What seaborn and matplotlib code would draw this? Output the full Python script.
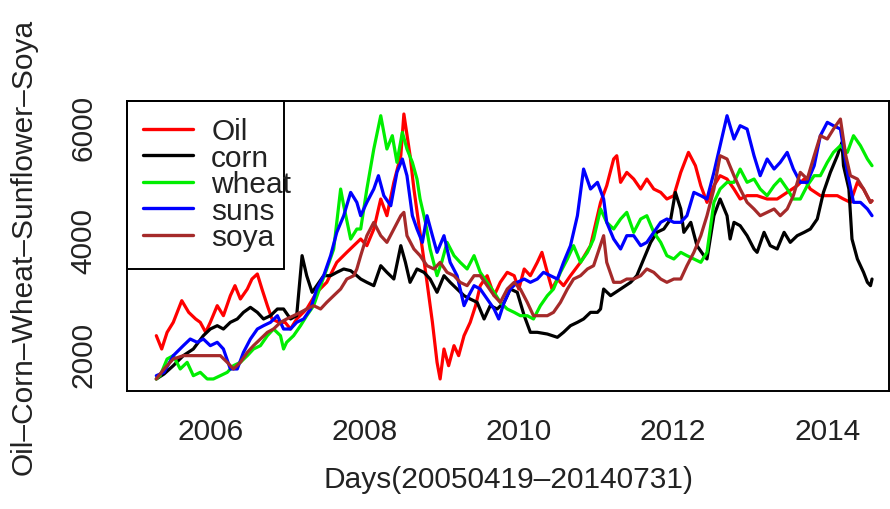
import numpy as np
import pandas as pd
import matplotlib
matplotlib.use("Agg")
import matplotlib.pyplot as plt
from matplotlib.patches import Rectangle
from matplotlib.lines import Line2D
import seaborn as sns

# ---- price series (decimal year, value) ----
oil_year = [2005.30, 2005.37, 2005.44, 2005.52, 2005.63, 2005.72, 2005.81, 2005.87, 2005.94, 2006.00,
            2006.09, 2006.17, 2006.26, 2006.32, 2006.39, 2006.48, 2006.54, 2006.61, 2006.67, 2006.74,
            2006.80, 2006.89, 2006.97, 2007.04, 2007.12, 2007.25, 2007.38, 2007.51, 2007.64, 2007.77,
            2007.86, 2007.95, 2008.03, 2008.12, 2008.21, 2008.29, 2008.38, 2008.47, 2008.51, 2008.59,
            2008.64, 2008.70, 2008.75, 2008.81, 2008.88, 2008.94, 2008.98, 2009.03, 2009.09, 2009.16,
            2009.22, 2009.29, 2009.37, 2009.44, 2009.50, 2009.59, 2009.68, 2009.76, 2009.85, 2009.94,
            2010.00, 2010.07, 2010.15, 2010.24, 2010.30, 2010.37, 2010.43, 2010.50, 2010.58, 2010.67,
            2010.80, 2010.93, 2011.06, 2011.14, 2011.23, 2011.27, 2011.32, 2011.40, 2011.49, 2011.58,
            2011.66, 2011.75, 2011.84, 2011.92, 2012.01, 2012.10, 2012.20, 2012.29, 2012.36, 2012.44,
            2012.53, 2012.61, 2012.70, 2012.79, 2012.87, 2012.96, 2013.09, 2013.22, 2013.35, 2013.48,
            2013.61, 2013.70, 2013.78, 2013.91, 2014.04, 2014.13, 2014.21, 2014.30, 2014.39, 2014.47,
            2014.56, 2014.58]
oil_value = [2323, 2088, 2382, 2558, 2940, 2734, 2617, 2558, 2382, 2558,
             2852, 2675, 3028, 3204, 2969, 3145, 3321, 3410, 3145, 2852,
             2617, 2558, 2558, 2440, 2617, 2793, 3087, 3263, 3615, 3791,
             3909, 4026, 3909, 4200, 4731, 4437, 5025, 5494, 6229, 5500,
             4907, 4320, 3850, 3263, 2558, 1853, 1560, 2088, 1794, 2147,
             1971, 2323, 2558, 2852, 3204, 3380, 3028, 3263, 3439, 3380,
             3145, 3498, 3380, 3615, 3791, 3439, 3145, 3321, 3204, 3380,
             3615, 3909, 4670, 4966, 5436, 5494, 5025, 5200, 5083, 4907,
             5083, 4907, 4848, 4731, 4790, 5200, 5553, 5318, 4966, 4672,
             4966, 5142, 5083, 4907, 4731, 4790, 4790, 4731, 4731, 4848,
             4966, 5083, 4907, 4790, 4790, 4790, 4731, 4672, 5025, 4907,
             4672, 4700]

corn_year = [2005.30, 2005.40, 2005.52, 2005.65, 2005.78, 2005.91, 2006.00, 2006.09, 2006.17, 2006.26,
             2006.35, 2006.43, 2006.52, 2006.61, 2006.69, 2006.78, 2006.87, 2006.95, 2007.04, 2007.12,
             2007.19, 2007.25, 2007.32, 2007.38, 2007.47, 2007.56, 2007.64, 2007.73, 2007.82, 2007.90,
             2007.95, 2008.03, 2008.12, 2008.21, 2008.29, 2008.38, 2008.47, 2008.53, 2008.59, 2008.68,
             2008.77, 2008.85, 2008.94, 2009.03, 2009.11, 2009.20, 2009.29, 2009.37, 2009.46, 2009.55,
             2009.63, 2009.72, 2009.81, 2009.89, 2009.98, 2010.07, 2010.15, 2010.24, 2010.37, 2010.50,
             2010.58, 2010.67, 2010.76, 2010.84, 2010.93, 2011.02, 2011.06, 2011.10, 2011.19, 2011.32,
             2011.45, 2011.53, 2011.62, 2011.71, 2011.79, 2011.88, 2011.97, 2012.03, 2012.10, 2012.14,
             2012.23, 2012.31, 2012.40, 2012.44, 2012.53, 2012.61, 2012.70, 2012.74, 2012.79, 2012.87,
             2012.96, 2013.05, 2013.09, 2013.18, 2013.26, 2013.35, 2013.44, 2013.52, 2013.61, 2013.70,
             2013.78, 2013.87, 2013.95, 2014.04, 2014.13, 2014.19, 2014.21, 2014.28, 2014.32, 2014.39,
             2014.47, 2014.52, 2014.56, 2014.58]
corn_value = [1560, 1647, 1794, 1971, 2088, 2323, 2440, 2499, 2440, 2558,
              2617, 2734, 2822, 2734, 2617, 2675, 2793, 2793, 2617, 2675,
              3733, 3380, 3087, 3204, 3380, 3380, 3439, 3498, 3468, 3380,
              3321, 3263, 3204, 3556, 3439, 3321, 3909, 3615, 3263, 3498,
              3439, 3321, 3087, 3380, 3263, 3145, 3028, 2969, 2910, 2617,
              2852, 2793, 2910, 3145, 3087, 2675, 2382, 2382, 2352, 2294,
              2382, 2499, 2558, 2617, 2734, 2734, 2793, 3145, 3028, 3145,
              3263, 3380, 3674, 3967, 4144, 4202, 4379, 4848, 4555, 4144,
              4320, 3909, 3733, 3674, 4437, 4731, 4437, 4026, 4320, 4261,
              4085, 3850, 3791, 4144, 3909, 3850, 4144, 3967, 4085, 4144,
              4202, 4379, 4848, 5201, 5494, 5729, 5318, 4907, 4026, 3674,
              3439, 3263, 3204, 3321]

wheat_year = [2005.30, 2005.35, 2005.44, 2005.52, 2005.61, 2005.70, 2005.78, 2005.87, 2005.96, 2006.04,
              2006.13, 2006.22, 2006.30, 2006.39, 2006.48, 2006.56, 2006.65, 2006.74, 2006.82, 2006.91,
              2006.95, 2006.99, 2007.08, 2007.17, 2007.25, 2007.34, 2007.43, 2007.51, 2007.60, 2007.69,
              2007.73, 2007.82, 2007.90, 2007.95, 2008.03, 2008.12, 2008.21, 2008.29, 2008.36, 2008.42,
              2008.49, 2008.55, 2008.62, 2008.68, 2008.72, 2008.79, 2008.85, 2008.94, 2009.00, 2009.07,
              2009.16, 2009.24, 2009.33, 2009.42, 2009.50, 2009.59, 2009.68, 2009.76, 2009.85, 2009.94,
              2010.02, 2010.11, 2010.19, 2010.28, 2010.37, 2010.45, 2010.54, 2010.63, 2010.71, 2010.80,
              2010.89, 2010.97, 2011.06, 2011.14, 2011.23, 2011.32, 2011.40, 2011.49, 2011.58, 2011.66,
              2011.75, 2011.84, 2011.92, 2012.01, 2012.10, 2012.18, 2012.27, 2012.36, 2012.44, 2012.53,
              2012.61, 2012.70, 2012.79, 2012.87, 2012.96, 2013.05, 2013.13, 2013.22, 2013.31, 2013.39,
              2013.48, 2013.56, 2013.65, 2013.74, 2013.83, 2013.91, 2014.00, 2014.08, 2014.17, 2014.26,
              2014.34, 2014.43, 2014.52, 2014.58]
wheat_value = [1560, 1618, 1912, 1971, 1736, 1853, 1618, 1677, 1560, 1560,
               1618, 1677, 1794, 1853, 1971, 2088, 2147, 2323, 2440, 2323,
               2088, 2206, 2323, 2499, 2675, 2852, 3204, 3498, 3850, 4907,
               4613, 4026, 4202, 4202, 4907, 5612, 6199, 5612, 5847, 5377,
               5906, 5612, 5377, 5083, 4731, 4320, 3850, 3380, 3615, 3967,
               3733, 3615, 3498, 3733, 3439, 3263, 3087, 2910, 2793, 2734,
               2675, 2675, 2617, 2852, 3028, 3145, 3439, 3674, 3909, 3615,
               3791, 4026, 4555, 4320, 4202, 4379, 4496, 4144, 4379, 4437,
               4144, 3967, 3733, 3674, 3791, 3733, 3674, 3615, 3791, 4672,
               4907, 5025, 5025, 5259, 5025, 5083, 4907, 4790, 4966, 5083,
               4907, 4731, 4731, 4966, 5142, 5142, 5377, 5553, 5671, 5553,
               5847, 5671, 5436, 5318]

suns_year = [2005.30, 2005.40, 2005.52, 2005.65, 2005.74, 2005.83, 2005.91, 2006.00, 2006.09, 2006.17,
             2006.26, 2006.35, 2006.43, 2006.52, 2006.61, 2006.69, 2006.78, 2006.87, 2006.95, 2007.04,
             2007.12, 2007.21, 2007.30, 2007.38, 2007.47, 2007.56, 2007.64, 2007.73, 2007.82, 2007.90,
             2007.95, 2008.03, 2008.12, 2008.18, 2008.25, 2008.34, 2008.42, 2008.49, 2008.55, 2008.62,
             2008.68, 2008.75, 2008.81, 2008.88, 2008.94, 2009.03, 2009.11, 2009.20, 2009.29, 2009.35,
             2009.42, 2009.50, 2009.59, 2009.68, 2009.74, 2009.81, 2009.89, 2009.98, 2010.07, 2010.15,
             2010.24, 2010.32, 2010.41, 2010.50, 2010.58, 2010.67, 2010.76, 2010.84, 2010.93, 2011.02,
             2011.10, 2011.14, 2011.23, 2011.32, 2011.40, 2011.49, 2011.58, 2011.66, 2011.75, 2011.84,
             2011.92, 2012.01, 2012.10, 2012.18, 2012.27, 2012.36, 2012.44, 2012.53, 2012.61, 2012.70,
             2012.79, 2012.87, 2012.96, 2013.05, 2013.13, 2013.22, 2013.31, 2013.39, 2013.48, 2013.56,
             2013.65, 2013.74, 2013.83, 2013.91, 2014.00, 2014.08, 2014.17, 2014.26, 2014.34, 2014.43,
             2014.52, 2014.58]
suns_value = [1618, 1677, 1971, 2147, 2264, 2206, 2264, 2147, 2206, 2088,
              1736, 1736, 2029, 2264, 2440, 2499, 2558, 2675, 2440, 2440,
              2558, 2617, 2793, 3145, 3380, 3733, 4144, 4437, 4848, 4672,
              4437, 4672, 4907, 5142, 4790, 4613, 5201, 5436, 5142, 4437,
              4202, 3967, 4437, 4085, 3791, 4085, 3615, 3380, 2852, 3028,
              3204, 3145, 2969, 2793, 2617, 2910, 3145, 3263, 3321, 3263,
              3321, 3439, 3380, 3321, 3615, 3909, 4437, 5259, 4907, 5025,
              4731, 4320, 4026, 3850, 4085, 4085, 3909, 3967, 4144, 4320,
              4379, 4320, 4320, 4437, 4848, 4790, 4731, 5201, 5671, 6199,
              5788, 6023, 5964, 5494, 5142, 5436, 5259, 5377, 5553, 5259,
              5025, 5025, 5318, 5847, 6082, 6023, 5964, 5201, 4672, 4672,
              4555, 4437]

soya_year = [2005.30, 2005.40, 2005.52, 2005.65, 2005.78, 2005.91, 2006.04, 2006.13, 2006.22, 2006.30,
             2006.39, 2006.48, 2006.56, 2006.65, 2006.74, 2006.82, 2006.91, 2006.99, 2007.08, 2007.17,
             2007.25, 2007.34, 2007.43, 2007.51, 2007.60, 2007.69, 2007.77, 2007.86, 2007.90, 2007.95,
             2008.03, 2008.12, 2008.21, 2008.29, 2008.38, 2008.47, 2008.51, 2008.55, 2008.64, 2008.72,
             2008.81, 2008.90, 2008.98, 2009.07, 2009.16, 2009.24, 2009.33, 2009.42, 2009.50, 2009.59,
             2009.68, 2009.76, 2009.85, 2009.94, 2010.02, 2010.11, 2010.19, 2010.28, 2010.37, 2010.45,
             2010.54, 2010.63, 2010.71, 2010.80, 2010.89, 2010.97, 2011.10, 2011.14, 2011.23, 2011.32,
             2011.40, 2011.49, 2011.58, 2011.66, 2011.75, 2011.84, 2011.92, 2012.01, 2012.10, 2012.18,
             2012.27, 2012.36, 2012.44, 2012.53, 2012.61, 2012.70, 2012.79, 2012.87, 2012.96, 2013.05,
             2013.13, 2013.22, 2013.31, 2013.39, 2013.48, 2013.56, 2013.65, 2013.74, 2013.83, 2013.91,
             2014.00, 2014.08, 2014.17, 2014.24, 2014.30, 2014.39, 2014.47, 2014.56, 2014.58]
soya_value = [1560, 1736, 1912, 1971, 1971, 1971, 1971, 1971, 1853, 1736,
              1853, 2029, 2147, 2264, 2382, 2440, 2558, 2617, 2675, 2734,
              2793, 2852, 2793, 2910, 3028, 3145, 3321, 3380, 3498, 3733,
              4085, 4320, 4085, 3967, 4202, 4437, 4496, 4085, 3850, 3733,
              3556, 3498, 3615, 3439, 3380, 3263, 3204, 3380, 3380, 3204,
              3028, 2910, 3145, 3263, 3145, 2910, 2675, 2675, 2675, 2734,
              2910, 3145, 3321, 3380, 3498, 3556, 4085, 3615, 3263, 3263,
              3321, 3321, 3380, 3498, 3439, 3321, 3263, 3321, 3321, 3556,
              3791, 4085, 4437, 4907, 5494, 5436, 5142, 4907, 4672, 4555,
              4437, 4496, 4555, 4437, 4555, 4790, 5201, 5083, 5494, 5847,
              5788, 5964, 6140, 5494, 5142, 5083, 4907, 4672, 4700]

series_names = ["Oil", "corn", "wheat", "suns", "soya"]
series_colors = ["#ff0000", "#000000", "#00ee00", "#0000ff", "#a52a2a"]
x_ticks = [2006, 2008, 2010, 2012, 2014]
y_ticks = [2000, 4000, 6000]

frames = []
for name, yr, val in zip(series_names,
                         [oil_year, corn_year, wheat_year, suns_year, soya_year],
                         [oil_value, corn_value, wheat_value, suns_value, soya_value]):
    frames.append(pd.DataFrame({"year": yr, "value": val, "series": name}))
df = pd.concat(frames, ignore_index=True)

sns.set_style("white")
plt.rcParams["font.family"] = ["Liberation Sans", "DejaVu Sans"]

W, H = 890, 510
fig = plt.figure(figsize=(W / 100, H / 100), dpi=100)
ax = fig.add_axes([127 / W, (H - 392) / H, (889 - 127) / W, (392 - 102) / H])

sns.lineplot(data=df, x="year", y="value", hue="series", hue_order=series_names,
             palette=dict(zip(series_names, series_colors)), estimator=None,
             sort=False, linewidth=2.3, ax=ax, legend=False)

ax.set_xlim(2004.92, 2014.80)
ax.set_ylim(1348, 6458)
ax.set_xticks(x_ticks)
ax.set_xticklabels([str(t) for t in x_ticks])
ax.set_yticks(y_ticks)
ax.set_yticklabels([str(t) for t in y_ticks], rotation=90, va="center")

for sp in ax.spines.values():
    sp.set_visible(True)
    sp.set_color("black")
    sp.set_linewidth(1.4)

ax.tick_params(axis="both", which="major", direction="out", length=10, width=1.4,
               color="black", labelsize=21.5, labelcolor="#222222")
ax.tick_params(axis="x", pad=9)
ax.tick_params(axis="y", pad=11)

ax.set_xlabel("Days(20050419\u201320140731)", fontsize=21.5, color="#222222", labelpad=14)
ax.set_ylabel("Oil\u2013Corn\u2013Wheat\u2013Sunflower\u2013Soya", fontsize=21.5,
              color="#222222", labelpad=23)

# legend in the upper-left corner with a plain black box
handles = [Line2D([0], [0], color=c, lw=2.4) for c in series_colors]
leg = ax.legend(handles, series_names, loc="upper left", bbox_to_anchor=(0.0, 1.0),
                borderaxespad=0.0, frameon=False, fontsize=21.5, handlelength=1.65,
                handletextpad=0.62, labelspacing=-0.05, borderpad=0.55)
for t in leg.get_texts():
    t.set_color("#222222")
ax.add_patch(Rectangle((0, 1), (284 - 127) / (889 - 127), -(270 - 102) / (392 - 102),
                       transform=ax.transAxes, fill=False, edgecolor="black",
                       linewidth=1.4, zorder=5, clip_on=False))

fig.savefig("out.png", dpi=100, facecolor="white")
